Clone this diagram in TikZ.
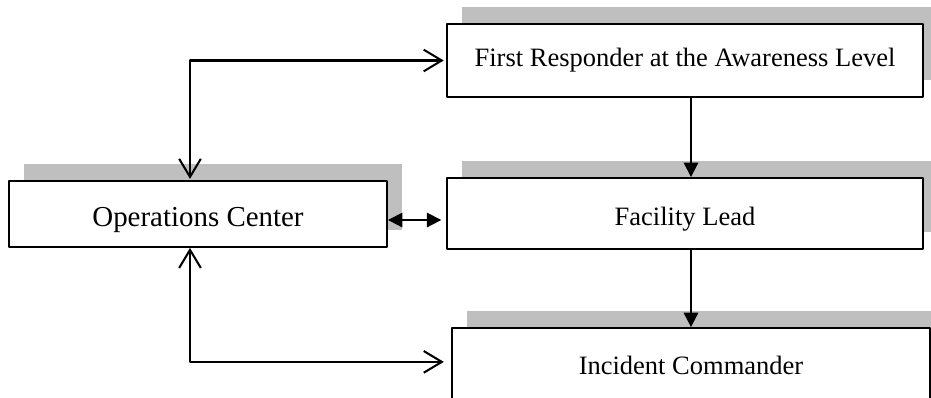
\documentclass[tikz,border=0pt]{standalone}
\usepackage{fontspec}
\setmainfont{Liberation Serif}
\usetikzlibrary{arrows.meta,shadows}

\tikzset{
  box/.style={draw=black, line width=0.75pt, fill=white, inner sep=0pt,
    font=\fontsize{11}{13}\selectfont,
    general shadow={fill=black!25, shadow xshift=6.2pt, shadow yshift=7.1pt}},
  openarr/.style={line width=0.85pt, >={Straight Barb[length=7.5pt,width=9pt]}},
  fillarr/.style={line width=0.75pt, >={Triangle[length=6pt,width=6pt]}}
}

\begin{document}
\begin{tikzpicture}
      [line cap=round,line join=round,x=0.415pt,y=-0.415pt]

\useasboundingbox (0,0) rectangle (931,398);

%the four boxes
  \node[box, minimum width=156.9pt, minimum height=27.4pt, font=\fontsize{12}{14}\selectfont,
        text height=12.5pt, text depth=2.5pt] (ops) at (198,214) {Operations Center};
  \node[box, minimum width=197.5pt, minimum height=30.3pt] (resp) at (685,60.5) {First Responder at the Awareness Level};
  \node[box, minimum width=197.5pt, minimum height=29.5pt,
        text height=12pt, text depth=2.4pt] (lead) at (685,213.5) {Facility Lead};
  \node[box, minimum width=198.4pt, minimum height=31.1pt] (cmd) at (691,365.5) {Incident Commander};

%side lane of the open arrows
  \coordinate (lane) at (190,0);

  \draw[openarr, <->, shorten <=0.5pt, shorten >=1pt] (lane |- ops.north) |- (resp.west);
  \draw[openarr, <->, shorten >=3pt] (lane |- ops.south) |- ([yshift=1.5pt]cmd.west);

%chain of command
  \draw[fillarr, <->, shorten >=2pt] ([yshift=-2.5pt]ops.east) -- ([yshift=-2.5pt]ops.east -| lead.west);
  \draw[fillarr, ->] ([xshift=2.5pt]resp.south) -- ([xshift=2.5pt]lead.north);
  \draw[fillarr, ->] (lead.south -| cmd.north) -- (cmd.north);

\end{tikzpicture}
\end{document}
